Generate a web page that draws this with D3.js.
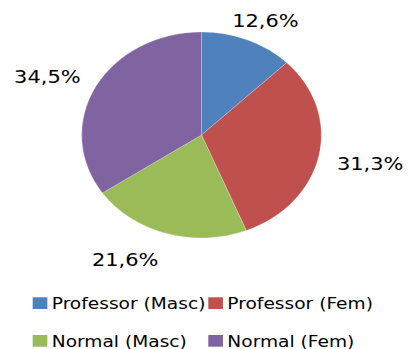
<!DOCTYPE html>
<html>
<head>
<meta charset="utf-8">
<script src="https://cdn.jsdelivr.net/npm/d3@7"></script>
<style>
  html, body { margin: 0; padding: 0; background: #fff; }
  svg { display: block; }
  text { font-family: "DejaVu Sans", Verdana, sans-serif; fill: #000; }
</style>
</head>
<body>
<svg id="chart" width="408" height="349"></svg>
<script>
// Share of each group (percent)
const categories = ["Professor (Masc)", "Professor (Fem)", "Normal (Masc)", "Normal (Fem)"];
const values = [12.6, 31.3, 21.6, 34.5];
const colors = ["#4F81BD", "#C0504D", "#9BBB59", "#8064A2"];

const W = 408, H = 349;
const sx = 1.163;               // horizontal stretch of the whole figure
const cx = 201.5 / sx, cy = 135, R = 103;

const svg = d3.select("#chart");
const root = svg.append("g").attr("transform", `scale(${sx},1)`);

const pie = d3.pie().sort(null).value(d => d)(values);
const arc = d3.arc().innerRadius(0).outerRadius(R);

const g = root.append("g").attr("transform", `translate(${cx},${cy})`);
g.selectAll("path.slice")
  .data(pie)
  .join("path")
  .attr("class", "slice")
  .attr("d", arc)
  .attr("fill", (d, i) => colors[i])
  .attr("stroke", "#ffffff")
  .attr("stroke-opacity", 0.35)
  .attr("stroke-width", 0.6);

// Value labels placed outside each slice along its mid angle
const fmt = v => v.toFixed(1).replace(".", ",") + "%";
const labelFont = 18;
const labelGap = 118;
const nudgeX = [-1.5, 1.5, -23, -3];
const nudgeY = [0, 3, 5, 0];

const labels = g.selectAll("text.val")
  .data(pie)
  .join("text")
  .attr("class", "val")
  .attr("font-size", labelFont)
  .attr("text-anchor", "middle")
  .text(d => fmt(d.data));

labels.each(function(d, i) {
  const a = (d.startAngle + d.endAngle) / 2;
  const s = Math.sin(a), c = -Math.cos(a);
  const bb = this.getBBox();
  const hw = bb.width / 2, hh = labelFont * 0.365;
  const x = s * (labelGap + hw) + nudgeX[i];
  const yc = c * (labelGap + hh) + nudgeY[i];
  d3.select(this).attr("x", x).attr("y", yc + hh);
});

// Legend, two columns by two rows
const legCols = [28.1, 179.1];
const legRows = [297.3, 335];
const leg = root.append("g");
categories.forEach((name, i) => {
  const col = i % 2, row = Math.floor(i / 2);
  const x = legCols[col], y = legRows[row];
  leg.append("rect")
    .attr("x", x).attr("y", y)
    .attr("width", 12.6).attr("height", 11.7)
    .attr("fill", colors[i]);
  leg.append("text")
    .attr("x", x + 16.4).attr("y", y + 11.7)
    .attr("font-size", 16)
    .text(name);
});
</script>
</body>
</html>
